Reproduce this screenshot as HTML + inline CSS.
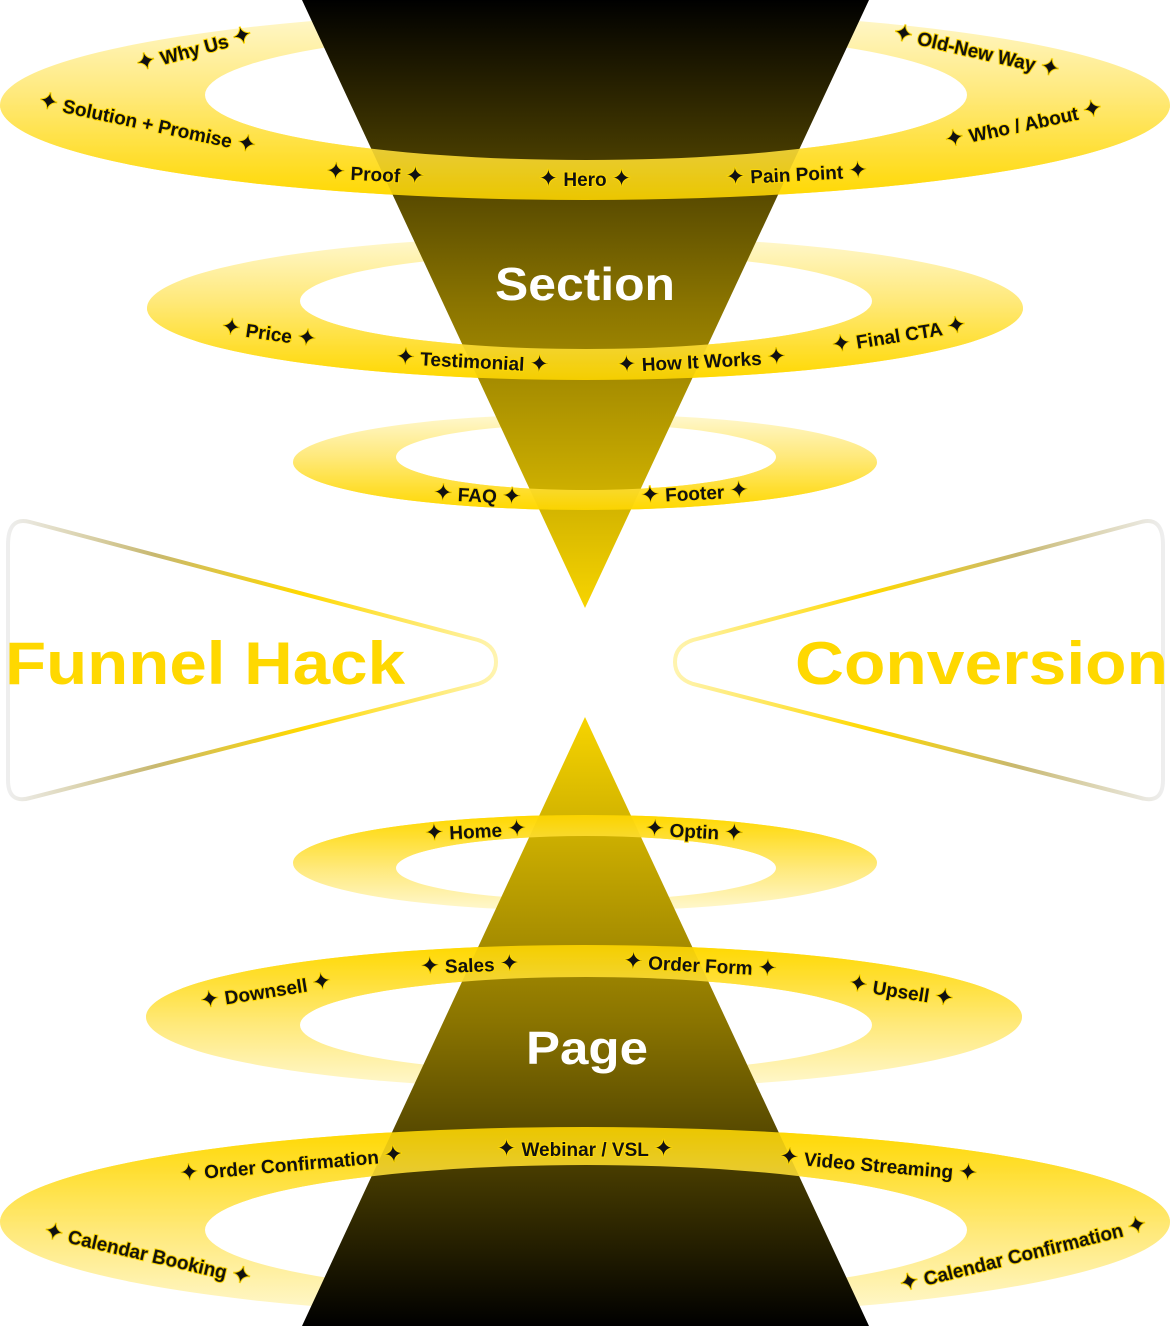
<!DOCTYPE html>
<html><head><meta charset="utf-8"><style>
html,body{margin:0;padding:0;background:#fff;}
svg{display:block;}
text{font-family:"Liberation Sans","DejaVu Sans",sans-serif;font-weight:bold;}
.l{font-size:19px;fill:#111;text-anchor:middle;stroke:#ffd800;stroke-width:2;paint-order:stroke;}
.l tspan{font-size:23px;}
</style></head><body>
<svg width="1171" height="1326" viewBox="0 0 1171 1326" xmlns="http://www.w3.org/2000/svg">
<defs>
<linearGradient id="rt" x1="0" y1="0" x2="0" y2="1"><stop offset="0" stop-color="#fff8d0"/><stop offset="0.45" stop-color="#ffe97a"/><stop offset="1" stop-color="#ffd800"/></linearGradient>
<linearGradient id="rb" x1="0" y1="0" x2="0" y2="1"><stop offset="0" stop-color="#ffd800"/><stop offset="0.55" stop-color="#ffe97a"/><stop offset="1" stop-color="#fff8d0"/></linearGradient>
<linearGradient id="tt" x1="0" y1="0" x2="0" y2="608" gradientUnits="userSpaceOnUse"><stop offset="0" stop-color="#000"/><stop offset="0.5" stop-color="#8a7400"/><stop offset="1" stop-color="#f7d400"/></linearGradient>
<linearGradient id="tb" x1="0" y1="717" x2="0" y2="1326" gradientUnits="userSpaceOnUse"><stop offset="0" stop-color="#f7d400"/><stop offset="0.5" stop-color="#8a7400"/><stop offset="1" stop-color="#000"/></linearGradient>
<linearGradient id="sl" x1="0" y1="0" x2="1" y2="0"><stop offset="0" stop-color="#eee"/><stop offset="0.3" stop-color="#c8b870"/><stop offset="0.6" stop-color="#ffd800"/><stop offset="1" stop-color="#fff4b0"/></linearGradient>
<linearGradient id="sr" x1="1" y1="0" x2="0" y2="0"><stop offset="0" stop-color="#eee"/><stop offset="0.3" stop-color="#c8b870"/><stop offset="0.6" stop-color="#ffd800"/><stop offset="1" stop-color="#fff4b0"/></linearGradient>
<clipPath id="lowT1"><rect x="0" y="105" width="1171" height="200"/></clipPath>
<clipPath id="lowT2"><rect x="0" y="308" width="1171" height="100"/></clipPath>
<clipPath id="lowT3"><rect x="0" y="462" width="1171" height="60"/></clipPath>
<clipPath id="upB4"><rect x="0" y="800" width="1171" height="63"/></clipPath>
<clipPath id="upB5"><rect x="0" y="930" width="1171" height="87"/></clipPath>
<clipPath id="upB6"><rect x="0" y="1110" width="1171" height="112"/></clipPath>
<g id="r1"><path fill-rule="evenodd" fill="url(#rt)" d="M0,105 a585,95 0 1,0 1170,0 a585,95 0 1,0 -1170,0 Z M205,95 a381,65 0 1,0 762,0 a381,65 0 1,0 -762,0 Z"/></g>
<g id="r2"><path fill-rule="evenodd" fill="url(#rt)" d="M147,308 a438,72 0 1,0 876,0 a438,72 0 1,0 -876,0 Z M300,301 a286,48 0 1,0 572,0 a286,48 0 1,0 -572,0 Z"/></g>
<g id="r3"><path fill-rule="evenodd" fill="url(#rt)" d="M293,462 a292,48 0 1,0 584,0 a292,48 0 1,0 -584,0 Z M396,457 a190,33 0 1,0 380,0 a190,33 0 1,0 -380,0 Z"/></g>
<g id="r4"><path fill-rule="evenodd" fill="url(#rb)" d="M293,863 a292,48 0 1,0 584,0 a292,48 0 1,0 -584,0 Z M396,868 a190,32 0 1,0 380,0 a190,32 0 1,0 -380,0 Z"/></g>
<g id="r5"><path fill-rule="evenodd" fill="url(#rb)" d="M146,1017 a438,72 0 1,0 876,0 a438,72 0 1,0 -876,0 Z M300,1025 a286,48 0 1,0 572,0 a286,48 0 1,0 -572,0 Z"/></g>
<g id="r6"><path fill-rule="evenodd" fill="url(#rb)" d="M0,1222 a585,95 0 1,0 1170,0 a585,95 0 1,0 -1170,0 Z M205,1230 a381,65 0 1,0 762,0 a381,65 0 1,0 -762,0 Z"/></g>
</defs>
<use href="#r1"/><use href="#r2"/><use href="#r3"/>
<use href="#r4"/><use href="#r5"/><use href="#r6"/>
<polygon points="302,0 869,0 585,608" fill="url(#tt)"/>
<polygon points="585,717 869,1326 302,1326" fill="url(#tb)"/>
<g opacity="0.88">
<use href="#r1" clip-path="url(#lowT1)"/><use href="#r2" clip-path="url(#lowT2)"/><use href="#r3" clip-path="url(#lowT3)"/>
<use href="#r4" clip-path="url(#upB4)"/><use href="#r5" clip-path="url(#upB5)"/><use href="#r6" clip-path="url(#upB6)"/>
</g>
<text x="585" y="300" font-size="46" fill="#fff" text-anchor="middle" textLength="180" lengthAdjust="spacingAndGlyphs">Section</text>
<text x="587" y="1064" font-size="46" fill="#fff" text-anchor="middle" textLength="122" lengthAdjust="spacingAndGlyphs">Page</text>
<path d="M30,522 L478,640 Q496,646 496,662 Q496,678 478,684 L30,798 Q8,804 8,780 L8,545 Q8,516 30,522 Z" fill="none" stroke="url(#sl)" stroke-width="4"/>
<path d="M1141,522 L693,640 Q675,646 675,662 Q675,678 693,684 L1141,798 Q1163,804 1163,780 L1163,545 Q1163,516 1141,522 Z" fill="none" stroke="url(#sr)" stroke-width="4"/>
<text x="5" y="684" font-size="60" fill="#ffd800" textLength="400" lengthAdjust="spacingAndGlyphs">Funnel Hack</text>
<text x="795" y="684" font-size="60" fill="#ffd800" textLength="373" lengthAdjust="spacingAndGlyphs">Conversion</text>
<g>
<text class="l" transform="translate(196,56) rotate(-15)"><tspan>✦</tspan> Why Us <tspan>✦</tspan></text>
<text class="l" transform="translate(146,130) rotate(12)"><tspan>✦</tspan> Solution + Promise <tspan>✦</tspan></text>
<text class="l" transform="translate(375,181) rotate(3)"><tspan>✦</tspan> Proof <tspan>✦</tspan></text>
<text class="l" transform="translate(585,186)"><tspan>✦</tspan> Hero <tspan>✦</tspan></text>
<text class="l" transform="translate(797,181) rotate(-3)"><tspan>✦</tspan> Pain Point <tspan>✦</tspan></text>
<text class="l" transform="translate(1025,131) rotate(-12)"><tspan>✦</tspan> Who / About <tspan>✦</tspan></text>
<text class="l" transform="translate(975,58) rotate(13)"><tspan>✦</tspan> Old-New Way <tspan>✦</tspan></text>
<text class="l" transform="translate(268,340) rotate(8)"><tspan>✦</tspan> Price <tspan>✦</tspan></text>
<text class="l" transform="translate(472,368) rotate(3)"><tspan>✦</tspan> Testimonial <tspan>✦</tspan></text>
<text class="l" transform="translate(702,368) rotate(-3)"><tspan>✦</tspan> How It Works <tspan>✦</tspan></text>
<text class="l" transform="translate(900,342) rotate(-9)"><tspan>✦</tspan> Final CTA <tspan>✦</tspan></text>
<text class="l" transform="translate(477,502) rotate(3)"><tspan>✦</tspan> FAQ <tspan>✦</tspan></text>
<text class="l" transform="translate(695,500) rotate(-3)"><tspan>✦</tspan> Footer <tspan>✦</tspan></text>
<text class="l" transform="translate(476,838) rotate(-3)"><tspan>✦</tspan> Home <tspan>✦</tspan></text>
<text class="l" transform="translate(694,838) rotate(3)"><tspan>✦</tspan> Optin <tspan>✦</tspan></text>
<text class="l" transform="translate(267,998) rotate(-9)"><tspan>✦</tspan> Downsell <tspan>✦</tspan></text>
<text class="l" transform="translate(470,972) rotate(-2)"><tspan>✦</tspan> Sales <tspan>✦</tspan></text>
<text class="l" transform="translate(700,972) rotate(3)"><tspan>✦</tspan> Order Form <tspan>✦</tspan></text>
<text class="l" transform="translate(900,998) rotate(9)"><tspan>✦</tspan> Upsell <tspan>✦</tspan></text>
<text class="l" transform="translate(292,1171) rotate(-5)"><tspan>✦</tspan> Order Confirmation <tspan>✦</tspan></text>
<text class="l" transform="translate(585,1156)"><tspan>✦</tspan> Webinar / VSL <tspan>✦</tspan></text>
<text class="l" transform="translate(878,1172) rotate(5)"><tspan>✦</tspan> Video Streaming <tspan>✦</tspan></text>
<text class="l" transform="translate(146,1261) rotate(13)"><tspan>✦</tspan> Calendar Booking <tspan>✦</tspan></text>
<text class="l" transform="translate(1025,1261) rotate(-14)"><tspan>✦</tspan> Calendar Confirmation <tspan>✦</tspan></text>
</g>
</svg>
</body></html>
